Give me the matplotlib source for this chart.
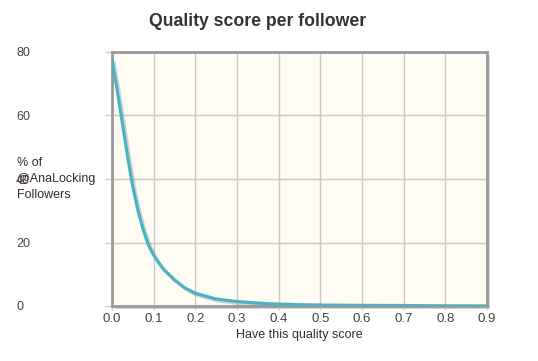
import matplotlib
matplotlib.use("Agg")
import matplotlib.pyplot as plt
import matplotlib.patheffects as pe
from matplotlib.patches import Rectangle

plt.rcParams['font.family'] = ['Liberation Sans', 'DejaVu Sans']

title = "Quality score per follower"
x_label = "Have this quality score"
y_label = "% of\n@AnaLocking\nFollowers"

quality = [0.0, 0.0125, 0.025, 0.0375, 0.05, 0.0625, 0.075, 0.0875, 0.1, 0.1125, 0.125, 0.15, 0.175,
           0.2, 0.25, 0.3, 0.35, 0.4, 0.45, 0.5, 0.6, 0.7, 0.8, 0.9]
percent = [77.5, 68.0, 57.5, 47.0, 37.5, 30.0, 24.0, 19.2, 16.0, 13.5, 11.4, 8.2, 5.7,
           4.0, 2.2, 1.4, 0.9, 0.6, 0.4, 0.3, 0.2, 0.15, 0.05, 0.02]

x_ticks = [0.0, 0.1, 0.2, 0.3, 0.4, 0.5, 0.6, 0.7, 0.8, 0.9]
x_tick_labels = ["0.0", "0.1", "0.2", "0.3", "0.4", "0.5", "0.6", "0.7", "0.8", "0.9"]
y_ticks = [0, 20, 40, 60, 80]
y_tick_labels = ["0", "20", "40", "60", "80"]

W, H = 538, 361
fig = plt.figure(figsize=(W / 100, H / 100), dpi=100)
fig.patch.set_facecolor('white')

L, R, T, B = 112, 487, 52, 306
ax = fig.add_axes([L / W, 1 - B / H, (R - L) / W, (B - T) / H])
ax.set_zorder(2)

# shadow behind plot area
fig.patches.append(Rectangle(((L + 3) / W, 1 - (B + 3) / H), (R - L) / W, (B - T) / H,
                             transform=fig.transFigure, facecolor='#d4d4d4', edgecolor='none', zorder=0))

ax.set_facecolor('#FFFCF4')
ax.plot(quality, percent, color='#4AB2C3', lw=2.3, solid_capstyle='round', solid_joinstyle='round',
        path_effects=[pe.SimpleLineShadow(offset=(1.5, -1.5), shadow_color='#888888', alpha=0.35),
                      pe.Normal()], zorder=3)

ax.set_xlim(0, 0.9)
ax.set_ylim(0, 80)
ax.set_xticks(x_ticks)
ax.set_xticklabels(x_tick_labels)
ax.set_yticks(y_ticks)
ax.set_yticklabels(y_tick_labels, ha='left')
ax.grid(True, color='#c8c8c8', lw=1)
ax.set_axisbelow(True)

for s in ax.spines.values():
    s.set_color('#999999')
    s.set_linewidth(2)

ax.tick_params(axis='y', length=5, width=1, color='#cccccc', pad=64, labelsize=9, labelcolor='#444444')
ax.tick_params(axis='x', length=3, width=1, color='#cccccc', pad=2, labelsize=9.5, labelcolor='#444444')

ax.set_xlabel(x_label, fontsize=9, color='#3a2a2a', labelpad=3)
ax.set_ylabel(y_label, fontsize=9, color='#3a2a2a', rotation=0, ha='left', va='center',
              linespacing=1.45)
ax.yaxis.set_label_coords((17 - L) / (R - L), (B - 179) / (B - T))

fig.text(258 / W, 1 - 22 / H, title, ha='center', va='center', fontsize=12.7,
         fontweight='bold', color='#333333')

fig.savefig('out.png', dpi=100)
